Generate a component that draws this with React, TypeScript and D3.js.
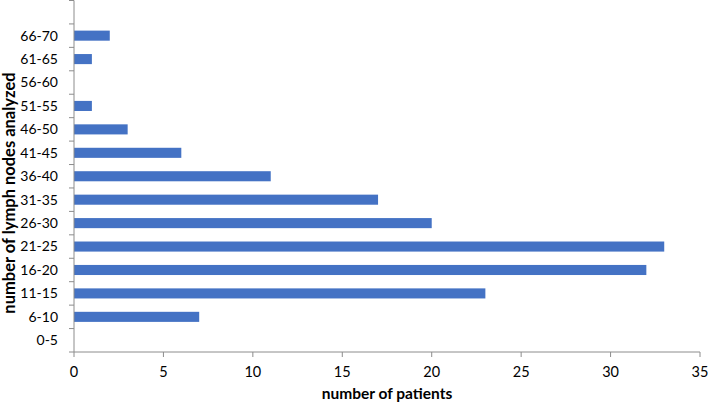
import React, { useEffect, useRef } from "react";
import * as d3 from "d3";

const categories = ["0-5", "6-10", "11-15", "16-20", "21-25", "26-30", "31-35", "36-40", "41-45", "46-50", "51-55", "56-60", "61-65", "66-70", ""];
const patients = [0, 7, 23, 32, 33, 20, 17, 11, 6, 3, 1, 0, 1, 2, null];
const xTicks = [0, 5, 10, 15, 20, 25, 30, 35];

const W = 708, H = 407;
const M = { left: 74, right: 8, top: 0.5, bottom: 55 };
const FONT = "Lato, 'Open Sans', sans-serif";

export default function App() {
  const ref = useRef<SVGSVGElement>(null);
  useEffect(() => {
    const svg = d3.select(ref.current);
    svg.selectAll("*").remove();
    const x = d3.scaleLinear().domain([0, 35]).range([M.left, W - M.right]);
    const y = d3.scaleBand<string>().domain(categories.map((c, i) => i + "")).range([H - M.bottom, M.top]).paddingInner(0.57).paddingOuter(0.285);
    const yb = d3.scaleBand<string>().domain(categories.map((c, i) => i + "")).range([H - M.bottom, M.top]);
    const axisColor = "#8c8c8c";
    const y0 = H - M.bottom;

    // bars
    svg.append("g").selectAll("rect").data(patients.map((v, i) => ({ v, i })).filter(d => d.v !== null && d.v > 0))
      .join("rect")
      .attr("x", x(0))
      .attr("y", d => y(d.i + "")!)
      .attr("width", d => x(d.v as number) - x(0))
      .attr("height", y.bandwidth())
      .attr("fill", "#4472C4");

    // x axis
    const gx = svg.append("g");
    gx.append("line").attr("x1", x(0)).attr("x2", x(35)).attr("y1", y0).attr("y2", y0).attr("stroke", axisColor);
    gx.selectAll("line.t").data(xTicks).join("line").attr("class", "t")
      .attr("x1", d => x(d)).attr("x2", d => x(d)).attr("y1", y0).attr("y2", y0 + 5).attr("stroke", axisColor);
    gx.selectAll("text").data(xTicks).join("text")
      .attr("x", d => x(d)).attr("y", y0 + 25).attr("text-anchor", "middle")
      .attr("font-family", FONT).attr("font-size", 14.5).attr("fill", "#000").text(d => d);

    // y axis
    const gy = svg.append("g");
    gy.append("line").attr("x1", x(0)).attr("x2", x(0)).attr("y1", M.top).attr("y2", y0).attr("stroke", axisColor);
    const bounds = categories.map((c, i) => yb(i + "")!).concat([y0]);
    gy.selectAll("line.t").data(bounds).join("line").attr("class", "t")
      .attr("x1", x(0) - 5).attr("x2", x(0)).attr("y1", d => d).attr("y2", d => d).attr("stroke", axisColor);
    gy.selectAll("text").data(categories).join("text")
      .attr("x", x(0) - 16).attr("y", (d, i) => yb(i + "")! + yb.bandwidth() / 2)
      .attr("dy", "0.35em").attr("text-anchor", "end")
      .attr("font-family", FONT).attr("font-size", 14).attr("fill", "#000").text(d => d);

    // titles
    svg.append("text").attr("x", (x(0) + x(35)) / 2).attr("y", 399).attr("text-anchor", "middle")
      .attr("font-family", FONT).attr("font-size", 15.5).attr("font-weight", "bold").text("number of patients");
    svg.append("text").attr("transform", `translate(9.5,193) rotate(-90)`)
      .attr("text-anchor", "middle").attr("dy", "0.35em")
      .attr("font-family", FONT).attr("font-size", 16.5).attr("font-weight", "bold").text("number of lymph nodes analyzed");
  }, []);
  return (
    <svg ref={ref} width={W} height={H} style={{ position: "absolute", left: 0, top: 0, background: "#fff" }} />
  );
}
